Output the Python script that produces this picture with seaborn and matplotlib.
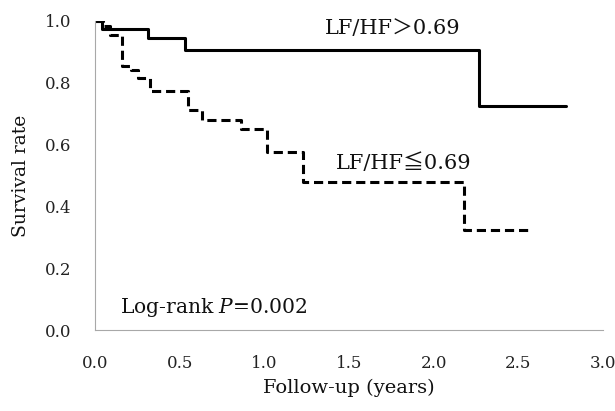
import matplotlib
matplotlib.use("Agg")
import matplotlib.pyplot as plt
import seaborn as sns
import pandas as pd

# Data (Kaplan-Meier steps)
high_time = [0.0, 0.04, 0.31, 0.53, 2.27, 2.78]
high_surv = [1.0, 0.973, 0.946, 0.906, 0.725, 0.725]

low_time = [0.0, 0.05, 0.09, 0.16, 0.215, 0.255, 0.325, 0.55, 0.63, 0.86, 1.015, 1.23, 2.18, 2.57]
low_surv = [1.0, 0.984, 0.955, 0.855, 0.84, 0.815, 0.775, 0.712, 0.678, 0.65, 0.577, 0.48, 0.324, 0.324]

group_labels = ["LF/HF＞0.69", "LF/HF≦0.69"]
x_ticks = [0.0, 0.5, 1.0, 1.5, 2.0, 2.5, 3.0]
y_ticks = [0.0, 0.2, 0.4, 0.6, 0.8, 1.0]

df = pd.concat([
    pd.DataFrame({"time": high_time, "surv": high_surv, "group": group_labels[0]}),
    pd.DataFrame({"time": low_time, "surv": low_surv, "group": group_labels[1]}),
], ignore_index=True)

sns.set_theme(style="white")
plt.rcParams["font.family"] = ["DejaVu Serif", "Noto Sans CJK JP"]
plt.rcParams["mathtext.fontset"] = "custom"
plt.rcParams["mathtext.it"] = "DejaVu Serif:italic"
plt.rcParams["mathtext.rm"] = "DejaVu Serif"

fig = plt.figure(figsize=(6.15, 4.11), dpi=100)
ax = fig.add_axes([0.1545, 0.197, 0.826, 0.752])

sns.lineplot(data=df, x="time", y="surv", style="group", color="black",
             dashes={group_labels[0]: "", group_labels[1]: (3, 1.6)},
             drawstyle="steps-post", estimator=None, sort=False,
             linewidth=2.2, legend=False, ax=ax)

ax.set_xlim(0, 3.0)
ax.set_ylim(0, 1.0)
ax.set_xticks(x_ticks)
ax.set_xticklabels([f"{v:.1f}" for v in x_ticks])
ax.set_yticks(y_ticks)
ax.set_yticklabels([f"{v:.1f}" for v in y_ticks])

for side in ["top", "right"]:
    ax.spines[side].set_visible(False)
for side in ["left", "bottom"]:
    ax.spines[side].set_color("#a8a8a8")
    ax.spines[side].set_linewidth(0.8)
ax.tick_params(axis="both", direction="out", length=4, width=0.8, color="#a8a8a8",
               labelsize=12, labelcolor="#222222")
ax.tick_params(axis="x", pad=14)
ax.tick_params(axis="y", pad=13)

ax.set_xlabel("Follow-up (years)", fontsize=14, labelpad=5, color="#111111")
ax.set_ylabel("Survival rate", fontsize=13.5, labelpad=11, color="#111111")

ax.text(1.36, 0.977, group_labels[0], fontsize=15, va="center", ha="left", color="#111111")
ax.text(1.42, 0.54, group_labels[1], fontsize=15, va="center", ha="left", color="#111111")
ax.text(0.148, 0.074, "Log-rank $P$=0.002", fontsize=14.6, va="center", ha="left", color="#111111")

fig.savefig("out.png", dpi=100)
